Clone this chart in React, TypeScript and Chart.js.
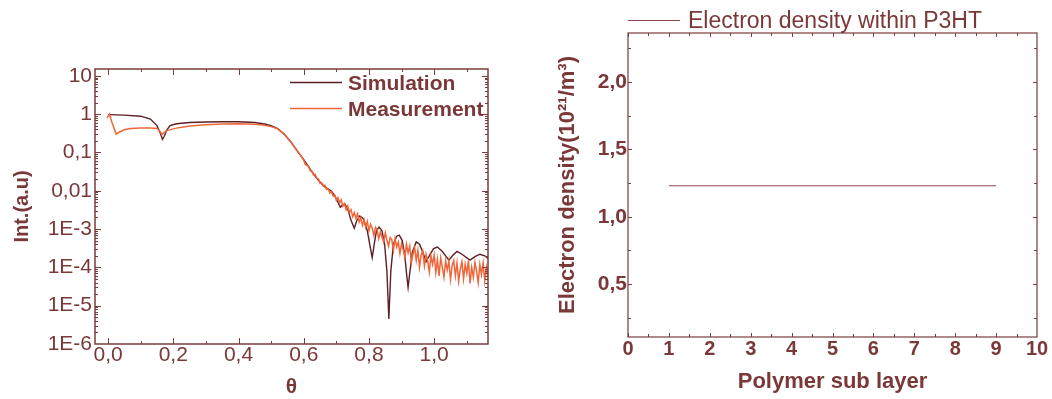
import React, { useEffect, useRef } from "react";
import { Chart, registerables } from "chart.js";
Chart.register(...registerables);

const FONT = "'Liberation Sans', Arial, Helvetica, sans-serif";
const TEXT = "#7a3838";
const AXIS = "#7b3c3c";
const SIM_COLOR = "#5c1f24";
const MEAS_COLOR = "#f0663a";
const DENSITY_COLOR = "#8a4848";

// ---- Left chart: reflectivity ----
const simTheta = [
  0.0, 0.05, 0.10, 0.13, 0.15, 0.16, 0.167, 0.172, 0.18, 0.19, 0.21, 0.25, 0.30, 0.35, 0.40,
  0.45, 0.48, 0.50, 0.52, 0.54, 0.56, 0.58, 0.60, 0.62, 0.64, 0.66, 0.675, 0.685, 0.695,
  0.705, 0.712, 0.718, 0.726, 0.735, 0.745, 0.755, 0.763, 0.772, 0.782, 0.795, 0.805, 0.81,
  0.816, 0.823, 0.831, 0.84, 0.848, 0.855, 0.861, 0.867, 0.875, 0.885, 0.893, 0.902, 0.91,
  0.916, 0.92, 0.925, 0.933, 0.945, 0.955, 0.965, 0.975, 0.985, 0.998, 1.01, 1.025, 1.045,
  1.058, 1.07, 1.085, 1.11, 1.125, 1.14, 1.155, 1.165,
];
const simInt = [
  0.97, 0.94, 0.88, 0.74, 0.5, 0.32, 0.22, 0.26, 0.38, 0.5, 0.56, 0.6, 0.62, 0.63, 0.63,
  0.6, 0.55, 0.5, 0.42, 0.3, 0.19, 0.11, 0.065, 0.036, 0.021, 0.0135, 0.011, 0.0098, 0.0075,
  0.005, 0.0037, 0.0042, 0.0045, 0.0033, 0.0017, 0.00105, 0.0017, 0.0022, 0.0019, 0.0009, 0.0003, 0.00018,
  0.0004, 0.0009, 0.00112, 0.0009, 0.0004, 0.00008, 0.0000045, 0.00008, 0.0004, 0.00065, 0.00069, 0.0005, 0.0002,
  0.00006, 0.00003, 0.00007, 0.00025, 0.00046, 0.0004, 0.00025, 0.00014, 0.0002, 0.00031, 0.00034, 0.00026, 0.000155,
  0.00021, 0.00026, 0.00022, 0.000155, 0.00019, 0.00022, 0.0002, 0.00017,
];

const measTheta = [
  -0.003, 0.004, 0.012, 0.025, 0.035, 0.05, 0.07, 0.10, 0.13, 0.15, 0.16, 0.165, 0.172, 0.18,
  0.21, 0.25, 0.30, 0.35, 0.40, 0.45, 0.48, 0.50, 0.52, 0.54, 0.56, 0.58, 0.59,
  0.600, 0.605, 0.610, 0.615, 0.620, 0.625, 0.630, 0.635, 0.640, 0.645, 0.650, 0.655, 0.660,
  0.665, 0.670, 0.675, 0.680, 0.685, 0.690, 0.695, 0.700, 0.705, 0.710, 0.715, 0.720, 0.725,
  0.730, 0.735, 0.740, 0.745, 0.750, 0.755, 0.760, 0.765, 0.770, 0.775, 0.780, 0.785, 0.790,
  0.795, 0.800, 0.805, 0.810, 0.815, 0.820, 0.825, 0.830, 0.835, 0.840, 0.845, 0.850, 0.855,
  0.860, 0.865, 0.870, 0.875, 0.880, 0.885, 0.890, 0.895, 0.900, 0.905, 0.910, 0.915, 0.920,
  0.925, 0.930, 0.935, 0.940, 0.945, 0.950, 0.955, 0.960, 0.965, 0.970, 0.975, 0.980, 0.985,
  0.990, 0.995, 1.000, 1.005, 1.010, 1.015, 1.020, 1.025, 1.030, 1.035, 1.040, 1.045, 1.050,
  1.055, 1.060, 1.065, 1.070, 1.075, 1.080, 1.085, 1.090, 1.095, 1.100, 1.105, 1.110, 1.115,
  1.120, 1.125, 1.130, 1.135, 1.140, 1.145, 1.150, 1.155, 1.160, 1.165,
];
const measInt = [
  0.78, 1.0, 0.6, 0.3, 0.34, 0.39, 0.42, 0.43, 0.43, 0.42, 0.35, 0.29, 0.33, 0.37,
  0.43, 0.49, 0.53, 0.55, 0.56, 0.54, 0.51, 0.47, 0.41, 0.3, 0.19, 0.11, 0.085,
  0.062, 0.048, 0.0462, 0.0427, 0.0331, 0.0324, 0.0257, 0.0266, 0.0211, 0.0204, 0.0155, 0.0162, 0.0135,
  0.014, 0.0108, 0.0114, 0.0087, 0.0097, 0.0072, 0.0077, 0.0056, 0.0066, 0.0048, 0.0058, 0.0039, 0.0046,
  0.0032, 0.004, 0.0027, 0.0032, 0.0021, 0.0027, 0.0019, 0.0025, 0.00153, 0.00193, 0.00126, 0.00176, 0.00111,
  0.00158,
  9.0e-4, 1.33e-3, 1.05e-3, 6.8e-4, 1.1e-3, 9.5e-4, 5.6e-4, 8.5e-4, 6.2e-4, 4.5e-4,
  8.0e-4, 5.2e-4, 3.6e-4, 6.0e-4, 5.3e-4, 2.8e-4, 5.6e-4, 3.4e-4, 4.6e-4, 2.3e-4,
  4.1e-4, 2.9e-4, 1.8e-4, 4.0e-4, 2.4e-4, 3.6e-4, 1.3e-4, 2.2e-4, 3.3e-4, 1.5e-4,
  2.8e-4, 1.0e-4, 2.1e-4, 2.7e-4, 1.1e-4, 2.2e-4, 1.45e-4, 7.5e-5, 2.0e-4, 1.2e-4,
  2.1e-4, 7.2e-5, 1.6e-4, 6.0e-5, 1.75e-4, 1.0e-4, 5.5e-5, 1.5e-4, 8.5e-5, 1.45e-4,
  4.8e-5, 1.1e-4, 1.5e-4, 6.0e-5, 1.3e-4, 4.4e-5, 9.0e-5, 1.4e-4, 5.0e-5, 1.2e-4,
  7.0e-5, 1.5e-4, 3.8e-5, 1.0e-4, 5.5e-5, 1.35e-4, 8.0e-5, 4.0e-5, 1.2e-4, 6.5e-5,
  1.3e-4, 4.5e-5, 1.0e-4, 6.0e-5,
];

const thetaTicks = [0, 0.2, 0.4, 0.6, 0.8, 1.0];
const thetaTickLabels = ["0,0", "0,2", "0,4", "0,6", "0,8", "1,0"];
const thetaMinor = [0.1, 0.3, 0.5, 0.7, 0.9, 1.1];
const intTicks = [1e-6, 1e-5, 1e-4, 1e-3, 1e-2, 1e-1, 1, 10];
const intTickLabels = ["1E-6", "1E-5", "1E-4", "1E-3", "0,01", "0,1", "1", "10"];

// ---- Right chart: electron density ----
const subLayers = [1, 2, 3, 4, 5, 6, 7, 8, 9];
const electronDensity = [1.23, 1.23, 1.23, 1.23, 1.23, 1.23, 1.23, 1.23, 1.23];
const layerTicks = [0, 1, 2, 3, 4, 5, 6, 7, 8, 9, 10];
const layerMinor = [0.5, 1.5, 2.5, 3.5, 4.5, 5.5, 6.5, 7.5, 8.5, 9.5];
const densityTicks = [0.5, 1.0, 1.5, 2.0];
const densityTickLabels = ["0,5", "1,0", "1,5", "2,0"];
const densityMinor = [0.25, 0.75, 1.25, 1.75, 2.25];

const logMinor: number[] = [];
for (let e = -6; e <= 1; e++) {
  for (let m = 2; m <= 9; m++) {
    const v = m * Math.pow(10, e);
    if (v <= 15) logMinor.push(v);
  }
}

const framePlugin = {
  id: "frame",
  afterDraw(chart: any, _args: any, opts: any) {
    const { ctx, chartArea: a } = chart;
    const xs = chart.scales.x;
    const ys = chart.scales.y;
    const seg = (x1: number, y1: number, x2: number, y2: number) => {
      ctx.beginPath();
      ctx.moveTo(x1, y1);
      ctx.lineTo(x2, y2);
      ctx.stroke();
    };
    ctx.save();
    ctx.strokeStyle = opts.color;
    ctx.lineWidth = opts.lineWidth;
    ctx.strokeRect(a.left, a.top, a.right - a.left, a.bottom - a.top);
    ctx.lineWidth = 1;
    const xt = (vals: number[], len: number) => {
      for (const v of vals) {
        const p = Math.round(xs.getPixelForValue(v)) + 0.5;
        if (p < a.left || p > a.right) continue;
        seg(p, a.bottom, p, a.bottom - len);
        seg(p, a.top, p, a.top + len);
      }
    };
    const yt = (vals: number[], len: number) => {
      for (const v of vals) {
        const p = Math.round(ys.getPixelForValue(v)) + 0.5;
        if (p < a.top || p > a.bottom) continue;
        seg(a.left, p, a.left + len, p);
        seg(a.right, p, a.right - len, p);
      }
    };
    xt(opts.xMajor, opts.majorLen);
    xt(opts.xMinor, opts.minorLen);
    yt(opts.yMajor, opts.majorLen);
    yt(opts.yMinor, opts.minorLen);

    for (const item of opts.legend) {
      const ds = chart.data.datasets[item.dataset];
      ctx.strokeStyle = ds.borderColor;
      ctx.lineWidth = item.lineWidth;
      seg(item.x1, item.y, item.x2, item.y);
      ctx.fillStyle = opts.textColor;
      ctx.font = item.font;
      ctx.textBaseline = "alphabetic";
      ctx.textAlign = "left";
      ctx.fillText(ds.label, item.tx, item.ty);
    }
    ctx.restore();
  },
};

function ReflectivityChart() {
  const ref = useRef<HTMLCanvasElement | null>(null);
  useEffect(() => {
    if (!ref.current) return;
    const chart = new Chart(ref.current, {
      type: "line",
      data: {
        datasets: [
          {
            label: "Simulation",
            data: simTheta.map((t, i) => ({ x: t, y: simInt[i] })),
            borderColor: SIM_COLOR,
            borderWidth: 1.4,
            pointRadius: 0,
            tension: 0,
            order: 2,
          },
          {
            label: "Measurement",
            data: measTheta.map((t, i) => ({ x: t, y: measInt[i] })),
            borderColor: MEAS_COLOR,
            borderWidth: 1.5,
            pointRadius: 0,
            tension: 0,
            order: 1,
          },
        ],
      },
      options: {
        animation: false,
        responsive: false,
        layout: { padding: { left: 0, right: 42, top: 69, bottom: 0 } },
        plugins: {
          legend: { display: false },
          tooltip: { enabled: false },
          frame: {
            color: AXIS,
            lineWidth: 1.5,
            textColor: TEXT,
            majorLen: 6,
            minorLen: 3,
            xMajor: thetaTicks,
            xMinor: thetaMinor,
            yMajor: intTicks,
            yMinor: logMinor,
            legend: [
              { dataset: 0, x1: 290, x2: 342, y: 82.5, tx: 348, ty: 90, lineWidth: 1.5, font: `bold 21px ${FONT}` },
              { dataset: 1, x1: 290, x2: 342, y: 108.5, tx: 348, ty: 115.5, lineWidth: 1.5, font: `bold 21px ${FONT}` },
            ],
          },
        } as any,
        scales: {
          x: {
            type: "linear",
            min: -0.04,
            max: 1.165,
            afterBuildTicks: (s: any) => {
              s.ticks = thetaTicks.map((v) => ({ value: v }));
            },
            afterFit: (s: any) => {
              s.height = 55;
            },
            grid: { display: false, drawTicks: false },
            border: { display: false },
            ticks: {
              autoSkip: false,
              maxRotation: 0,
              padding: 1,
              color: TEXT,
              font: { family: FONT, size: 21, lineHeight: 1 },
              callback: (_v: any, i: number) => thetaTickLabels[i],
            },
            title: {
              display: true,
              text: "θ",
              color: TEXT,
              font: { family: FONT, size: 21, weight: "bold", lineHeight: 1.1 },
              padding: { top: 0, bottom: 0 },
            },
          },
          y: {
            type: "logarithmic",
            min: 1e-6,
            max: 15,
            afterBuildTicks: (s: any) => {
              s.ticks = intTicks.map((v) => ({ value: v }));
            },
            afterFit: (s: any) => {
              s.width = 95;
            },
            grid: { display: false, drawTicks: false },
            border: { display: false },
            ticks: {
              autoSkip: false,
              padding: 3,
              color: TEXT,
              font: { family: FONT, size: 21 },
              callback: (_v: any, i: number) => intTickLabels[i],
            },
            title: {
              display: true,
              text: "Int.(a.u)",
              color: TEXT,
              font: { family: FONT, size: 20, weight: "bold", lineHeight: 1.2 },
              padding: { top: 10, bottom: 0 },
            },
          },
        },
      },
      plugins: [framePlugin],
    } as any);
    return () => chart.destroy();
  }, []);
  return (
    <canvas
      ref={ref}
      width={530}
      height={399}
      style={{ position: "absolute", left: 0, top: 0, width: 530, height: 399 }}
    />
  );
}

function DensityChart() {
  const ref = useRef<HTMLCanvasElement | null>(null);
  useEffect(() => {
    if (!ref.current) return;
    const chart = new Chart(ref.current, {
      type: "line",
      data: {
        datasets: [
          {
            label: "Electron density within P3HT",
            data: subLayers.map((l, i) => ({ x: l, y: electronDensity[i] })),
            borderColor: DENSITY_COLOR,
            borderWidth: 1.2,
            pointRadius: 0,
            tension: 0,
          },
        ],
      },
      options: {
        animation: false,
        responsive: false,
        layout: { padding: { left: 0, right: 15, top: 33, bottom: 0 } },
        plugins: {
          legend: { display: false },
          tooltip: { enabled: false },
          frame: {
            color: AXIS,
            lineWidth: 1.2,
            textColor: TEXT,
            majorLen: 4,
            minorLen: 3,
            xMajor: layerTicks,
            xMinor: layerMinor,
            yMajor: densityTicks,
            yMinor: densityMinor,
            legend: [
              { dataset: 0, x1: 98, x2: 150, y: 20.5, tx: 158, ty: 28, lineWidth: 1.2, font: `23px ${FONT}` },
            ],
          },
        } as any,
        scales: {
          x: {
            type: "linear",
            min: 0,
            max: 10,
            afterBuildTicks: (s: any) => {
              s.ticks = layerTicks.map((v) => ({ value: v }));
            },
            afterFit: (s: any) => {
              s.height = 62;
            },
            grid: { display: false, drawTicks: false },
            border: { display: false },
            ticks: {
              autoSkip: false,
              maxRotation: 0,
              padding: 2,
              color: TEXT,
              font: { family: FONT, size: 20, weight: "bold", lineHeight: 1 },
              callback: (v: any) => String(v),
            },
            title: {
              display: true,
              text: "Polymer sub layer",
              color: TEXT,
              font: { family: FONT, size: 22, weight: "bold", lineHeight: 1.2 },
              padding: { top: 0, bottom: 4 },
            },
          },
          y: {
            type: "linear",
            min: 0.107,
            max: 2.364,
            afterBuildTicks: (s: any) => {
              s.ticks = densityTicks.map((v) => ({ value: v }));
            },
            afterFit: (s: any) => {
              s.width = 98;
            },
            grid: { display: false, drawTicks: false },
            border: { display: false },
            ticks: {
              autoSkip: false,
              padding: 1,
              color: TEXT,
              font: { family: FONT, size: 21, weight: "bold" },
              callback: (_v: any, i: number) => densityTickLabels[i],
            },
            title: {
              display: true,
              text: "Electron density(10²¹/m³)",
              color: TEXT,
              font: { family: FONT, size: 22, weight: "bold", lineHeight: 1.2 },
              padding: { top: 25, bottom: 0 },
            },
          },
        },
      },
      plugins: [framePlugin],
    } as any);
    return () => chart.destroy();
  }, []);
  return (
    <canvas
      ref={ref}
      width={522}
      height={399}
      style={{ position: "absolute", left: 530, top: 0, width: 522, height: 399 }}
    />
  );
}

export default function App() {
  return (
    <div
      style={{
        position: "fixed",
        left: 0,
        top: 0,
        width: 1052,
        height: 399,
        background: "#ffffff",
        overflow: "hidden",
      }}
    >
      <ReflectivityChart />
      <DensityChart />
    </div>
  );
}
